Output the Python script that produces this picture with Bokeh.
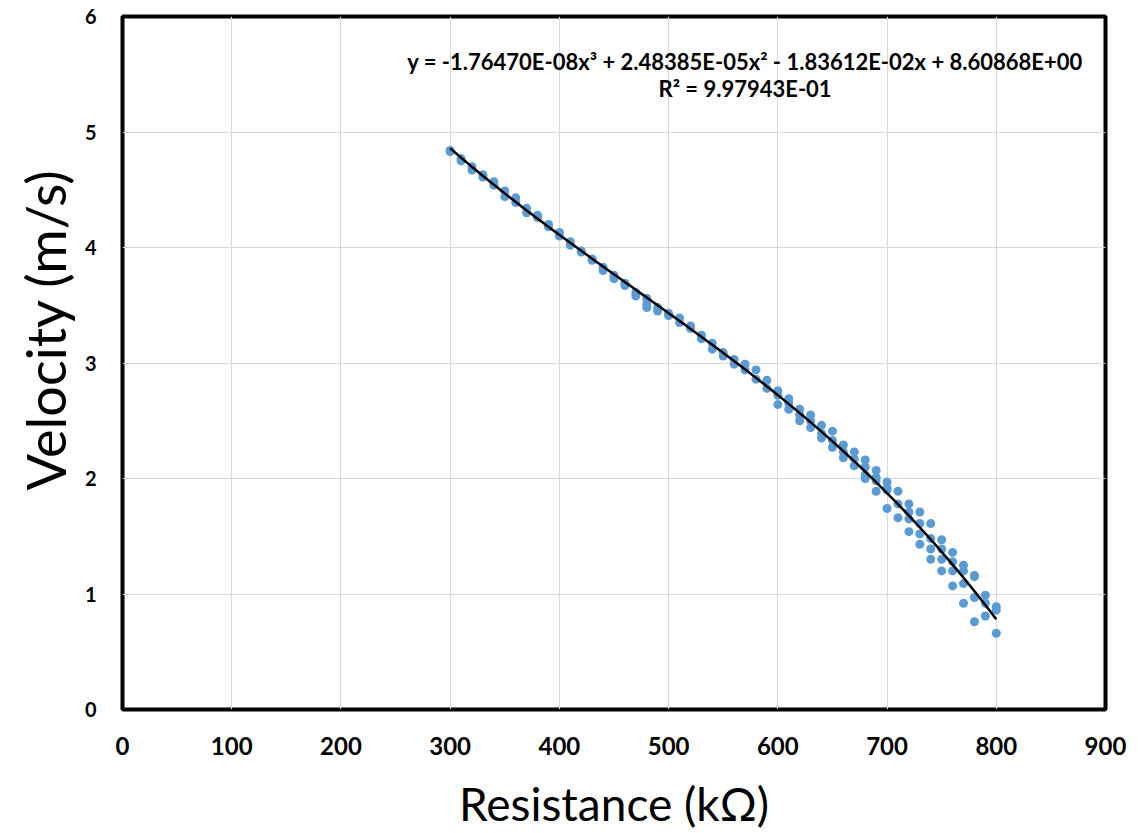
import numpy as np
from bokeh.plotting import figure
from bokeh.models import Range1d, FixedTicker, Label, Title, ColumnDataSource
from bokeh.embed import file_html
from bokeh.resources import INLINE

# Measured resistance (kOhm) and velocity (m/s)
resistance = [
    300, 300, 310, 310, 320, 320, 330, 330, 340, 340,
    350, 350, 360, 360, 370, 370, 380, 380, 390, 390,
    400, 400, 410, 410, 420, 420, 430, 430, 440, 440,
    450, 450, 460, 460, 470, 470, 480, 480, 480, 490, 490,
    500, 500, 510, 510, 520, 520, 530, 530, 540, 540,
    550, 550, 560, 560, 570, 570, 580, 580, 590, 590,
    600, 600, 600, 610, 610, 610, 620, 620, 620, 630, 630, 630,
    640, 640, 640, 650, 650, 650, 660, 660, 660, 670, 670, 670,
    680, 680, 680, 680, 690, 690, 690, 690, 700, 700, 700, 700,
    710, 710, 710, 720, 720, 720, 720, 730, 730, 730, 730,
    740, 740, 740, 740, 750, 750, 750, 750, 760, 760, 760, 760,
    770, 770, 770, 770, 780, 780, 780, 780, 790, 790, 790,
    800, 800, 800,
]
velocity = [
    4.84, 4.83, 4.77, 4.75, 4.70, 4.67, 4.63, 4.61, 4.57, 4.54,
    4.49, 4.44, 4.43, 4.39, 4.34, 4.30, 4.28, 4.26, 4.20, 4.18,
    4.13, 4.10, 4.05, 4.02, 3.97, 3.96, 3.90, 3.89, 3.83, 3.80,
    3.76, 3.73, 3.69, 3.67, 3.61, 3.58, 3.56, 3.51, 3.48, 3.48, 3.45,
    3.43, 3.41, 3.39, 3.35, 3.32, 3.30, 3.24, 3.21, 3.17, 3.12,
    3.09, 3.06, 3.03, 2.99, 2.99, 2.94, 2.94, 2.86, 2.85, 2.78,
    2.76, 2.72, 2.64, 2.69, 2.65, 2.60, 2.60, 2.55, 2.50, 2.55, 2.50, 2.44,
    2.46, 2.39, 2.35, 2.41, 2.33, 2.27, 2.29, 2.23, 2.18, 2.23, 2.17, 2.11,
    2.16, 2.10, 2.03, 2.00, 2.07, 2.01, 1.98, 1.89, 1.97, 1.92, 1.90, 1.74,
    1.89, 1.78, 1.66, 1.78, 1.71, 1.65, 1.54, 1.71, 1.61, 1.52, 1.43,
    1.61, 1.48, 1.39, 1.30, 1.47, 1.39, 1.30, 1.20, 1.36, 1.28, 1.20, 1.07,
    1.25, 1.20, 1.09, 0.92, 1.16, 1.15, 0.97, 0.76, 0.99, 0.92, 0.81,
    0.89, 0.86, 0.66,
]

# Cubic trendline: a3, a2, a1, a0
fit_coeffs = [-1.76470e-08, 2.48385e-05, -1.83612e-02, 8.60868e+00]
r_squared = 9.97943e-01
fit_range = [300, 800]

x_ticks = [0, 100, 200, 300, 400, 500, 600, 700, 800, 900]
y_ticks = [0, 1, 2, 3, 4, 5, 6]

FONT = "Lato"

p = figure(
    width=1138, height=833,
    x_range=Range1d(0, 900), y_range=Range1d(0, 6),
    output_backend="svg", toolbar_location=None,
    min_border_left=122, min_border_right=33,
    min_border_top=16, min_border_bottom=124,
    background_fill_color="white", border_fill_color="white",
)
p.outline_line_color = "black"
p.outline_line_width = 4

p.xgrid.grid_line_color = "#d9d9d9"
p.ygrid.grid_line_color = "#d9d9d9"
p.xgrid.grid_line_width = 1
p.ygrid.grid_line_width = 1
p.xaxis.ticker = FixedTicker(ticks=x_ticks)
p.yaxis.ticker = FixedTicker(ticks=y_ticks)

for ax in (p.xaxis, p.yaxis):
    ax.axis_line_color = None
    ax.major_tick_line_color = None
    ax.minor_tick_line_color = None
    ax.major_tick_out = 0
    ax.major_tick_in = 0
    ax.major_label_text_font = FONT
    ax.major_label_text_font_style = "bold"
    ax.major_label_text_color = "black"

p.xaxis.major_label_text_font_size = "24px"
p.yaxis.major_label_text_font_size = "20px"
p.xaxis.major_label_standoff = 27
p.yaxis.major_label_standoff = 26

p.xaxis.axis_label = "Resistance (kΩ)"
p.xaxis.axis_label_text_font = FONT
p.xaxis.axis_label_text_font_style = "normal"
p.xaxis.axis_label_text_font_size = "46px"
p.xaxis.axis_label_text_color = "black"
p.xaxis.axis_label_standoff = 18

# Vertical title, set a little above the frame centre
p.add_layout(Title(text="Velocity (m/s)", align="left", offset=219,
                   vertical_align="top",
                   text_font=FONT, text_font_size="54px",
                   text_font_style="normal", text_color="black",
                   standoff=4), "left")

# Data points
src = ColumnDataSource(data=dict(x=resistance, y=velocity))
p.scatter("x", "y", source=src, size=9, fill_color="#5b9bd5",
          line_color="#5b9bd5", line_width=0)

# Trendline from the fitted polynomial
xf = np.linspace(fit_range[0], fit_range[1], 200)
yf = np.polyval(fit_coeffs, xf)
p.line(xf, yf, line_color="black", line_width=2.5)

eq_text = "y = -1.76470E-08x³ + 2.48385E-05x² - 1.83612E-02x + 8.60868E+00"
r2_text = "R² = %.5E" % r_squared
p.add_layout(Label(x=570, y=5.61, text=eq_text, text_align="center",
                   text_baseline="middle", text_font=FONT,
                   text_font_style="bold", text_font_size="22px",
                   text_color="black"))
p.add_layout(Label(x=570, y=5.38, text=r2_text, text_align="center",
                   text_baseline="middle", text_font=FONT,
                   text_font_style="bold", text_font_size="22px",
                   text_color="black"))

open("out.html", "w").write(file_html(p, INLINE))
